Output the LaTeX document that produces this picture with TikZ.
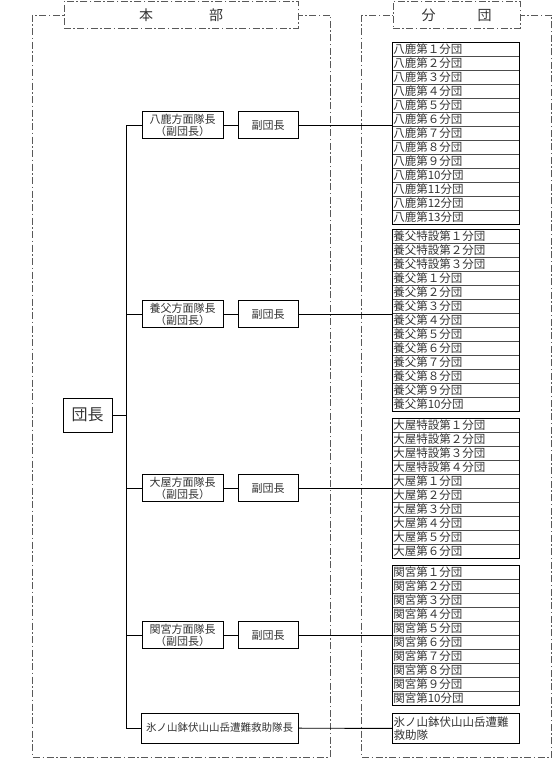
\documentclass[tikz,border=0pt]{standalone}
\usepackage{fontspec}
\setmainfont{Noto Sans CJK JP}
\newcommand{\bunlist}[4]{%
  \foreach \lbl [count=\i from 0] in {#4}
    \node (#1\i) [row] at (392,{#2+14*\i}) {\lbl};
  \node (#1) [listbox, minimum height={14pt*#3}] at (392,#2) {};
}
\begin{document}
\begin{tikzpicture}[x=1pt, y=-1pt, node distance=85.5pt, auto,
    frame/.style={draw=black!65, line width=0.7pt, dash pattern=on 7pt off 2.5pt on 1.5pt off 2.5pt},
    head/.style={frame, fill=white, anchor=north west, minimum height=27pt, inner sep=0pt, text=black!80, font=\fontsize{14}{16}\selectfont},
    box/.style={draw, line width=1pt, inner sep=0pt, align=center, text=black!80, font=\fontsize{11}{12}\selectfont},
    row/.style={draw=black!70, line width=0.5pt, anchor=north west, minimum width=127pt, minimum height=14pt, inner sep=0pt, text width=125pt, align=left, text=black!80, font=\fontsize{11.5}{12.5}\selectfont},
    listbox/.style={draw, line width=1.1pt, anchor=north west, minimum width=127pt, inner sep=0pt},
    conn/.style={line width=0.9pt}]
	\useasboundingbox (0,0) rectangle (553,768);

	\draw[frame] (32.5,15) rectangle (330,757);
	\draw[frame] (361.5,15) rectangle (551.5,757);
	\node (honbu) [head, minimum width=234.5pt] at (63.5,1) {本\hspace{4em}部};
	\node (bundan) [head, minimum width=127.5pt] at (392.5,1) {分\hspace{3em}団};

	\node (dancho) [box, minimum width=49pt, minimum height=34pt, font=\fontsize{16}{18}\selectfont] at (87.5,415) {団長};
	\node (hoA) [box, minimum width=81pt, minimum height=27pt] at (182.5,125) {八鹿方面隊長\\（副団長）};
	\node (hoB) [box, minimum width=81pt, minimum height=27pt] at (182.5,314) {養父方面隊長\\（副団長）};
	\node (hoC) [box, minimum width=81pt, minimum height=27pt] at (182.5,488) {大屋方面隊長\\（副団長）};
	\node (hoD) [box, minimum width=81pt, minimum height=27pt] at (182.5,635) {関宮方面隊長\\（副団長）};
	\node (fkA) [box, minimum width=60pt, minimum height=27pt, right of=hoA] {副団長};
	\node (fkB) [box, minimum width=60pt, minimum height=27pt, right of=hoB] {副団長};
	\node (fkC) [box, minimum width=60pt, minimum height=27pt, right of=hoC] {副団長};
	\node (fkD) [box, minimum width=60pt, minimum height=27pt, right of=hoD] {副団長};
	\node (hyo) [box, minimum width=157pt, minimum height=30pt, font=\fontsize{10.5}{12}\selectfont] at (219.5,728) {氷ノ山鉢伏山山岳遭難救助隊長};

	\bunlist{yoka}{42}{13}{八鹿第１分団,八鹿第２分団,八鹿第３分団,八鹿第４分団,八鹿第５分団,八鹿第６分団,八鹿第７分団,八鹿第８分団,八鹿第９分団,八鹿第10分団,八鹿第11分団,八鹿第12分団,八鹿第13分団}
	\bunlist{yabu}{229}{13}{養父特設第１分団,養父特設第２分団,養父特設第３分団,養父第１分団,養父第２分団,養父第３分団,養父第４分団,養父第５分団,養父第６分団,養父第７分団,養父第８分団,養父第９分団,養父第10分団}
	\bunlist{oya}{418}{10}{大屋特設第１分団,大屋特設第２分団,大屋特設第３分団,大屋特設第４分団,大屋第１分団,大屋第２分団,大屋第３分団,大屋第４分団,大屋第５分団,大屋第６分団}
	\bunlist{seki}{565}{10}{関宮第１分団,関宮第２分団,関宮第３分団,関宮第４分団,関宮第５分団,関宮第６分団,関宮第７分団,関宮第８分団,関宮第９分団,関宮第10分団}
	\node (kyujo) [row, draw=black, line width=1.1pt, minimum height=30pt, font=\fontsize{11.5}{13}\selectfont] at (392,713) {氷ノ山鉢伏山山岳遭難\\救助隊};

	\coordinate (spine) at (126,0);
	\draw[conn] (hoA.west -| spine) -- (hyo.west -| spine);
	\draw[conn] (dancho.east) -- (dancho.east -| spine);
	\foreach \h in {hoA,hoB,hoC,hoD,hyo}
		\draw[conn] (\h.west -| spine) -- (\h.west);
	\foreach \h/\f/\l in {hoA/fkA/yoka,hoB/fkB/yabu,hoC/fkC/oya,hoD/fkD/seki} {
		\draw[conn] (\h) -- (\f);
		\draw[conn] (\f.east) -- (\f.east -| \l.west);
	}
	\draw[conn] (hyo) -- (kyujo);
\end{tikzpicture}
\end{document}
